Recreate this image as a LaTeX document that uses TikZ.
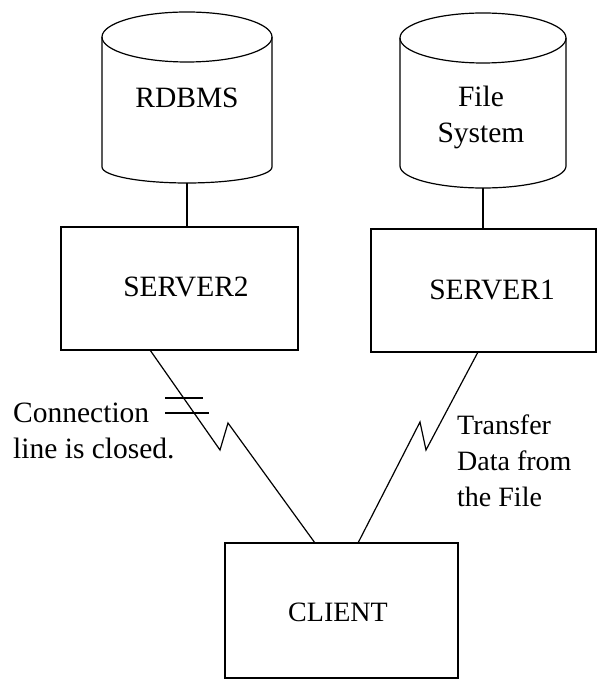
\documentclass[tikz,border=0pt]{standalone}
\usepackage{fontspec}
\setmainfont{Liberation Serif}
\usetikzlibrary{calc}
\begin{document}
\begin{tikzpicture}[x=1pt,y=1pt,
  box/.style={draw,line width=1.6pt,inner sep=0pt},
  cyl/.style={draw,line width=1.2pt},
  wire/.style={draw,line width=1.2pt,line join=miter},
  txt/.style={font=\fontsize{29.5}{36}\selectfont,inner sep=0pt}]
\useasboundingbox (0,0) rectangle (597,680);
% cylinders
\draw[cyl] (187,643) ellipse (85 and 25);
\draw[cyl] (102,643) -- (102,513) arc (180:360:85 and 16) -- (272,643);
\coordinate (db1) at (187,497);
\node[txt,anchor=base] (rdbms) at (187,572) {RDBMS};
\draw[cyl] (483,642) ellipse (83 and 25);
\draw[cyl] (400,642) -- (400,514) arc (180:360:83 and 22) -- (566,642);
\coordinate (db2) at (483,492);
\node[txt,anchor=base,align=center] (fs) at (481,537) {File\\System};
% boxes
\node[box,minimum width=237pt,minimum height=123pt] (s2) at (179.5,391.5) {};
\node[box,minimum width=225pt,minimum height=123pt] (s1) at (483.5,389.5) {};
\node[box,minimum width=233pt,minimum height=135pt] (cl) at (341.5,69.5) {};
\node[txt,anchor=base] (s2t) at (186,383) {SERVER2};
\node[txt,anchor=base] (s1t) at (492,380) {SERVER1};
\node[txt,anchor=base,font=\fontsize{28}{36}\selectfont] (clt) at (338,58) {CLIENT};
% vertical links
\draw[cyl] (db1) -- (s2.north -| db1);
\draw[cyl] (db2) -- (s1.north -| db2);
% lightning links
\coordinate (a0) at (150,330);
\coordinate (a1) at (220,230);
\coordinate (a2) at (228,257);
\coordinate (a3) at (315,137);
\draw[wire] (a0) -- (a1) -- (a2) -- (a3);
\coordinate (t1a) at (165,282); \coordinate (t1b) at (203,282);
\coordinate (t2a) at (165,267); \coordinate (t2b) at (209,267);
\draw[wire] (t1a) -- (t1b);
\draw[wire] (t2a) -- (t2b);
\coordinate (b0) at (478,328);
\coordinate (b1) at (426,230);
\coordinate (b2) at (420,258);
\coordinate (b3) at (358,137);
\draw[wire] (b0) -- (b1) -- (b2) -- (b3);
% labels
\node[txt,anchor=base west,align=left] (lclosed) at (13,221) {Connection\\line is closed.};
\node[txt,anchor=base west,align=left,font=\fontsize{28}{36}\selectfont] (ltrans) at (457,173) {Transfer\\Data from\\the File};
\end{tikzpicture}
\end{document}
